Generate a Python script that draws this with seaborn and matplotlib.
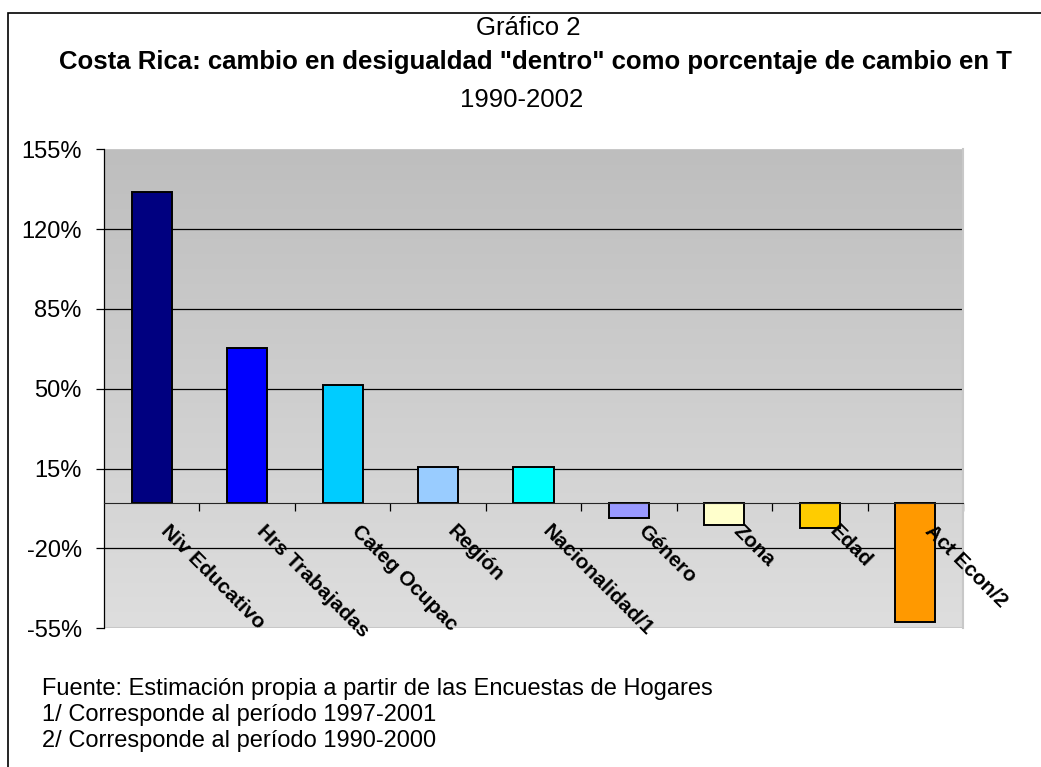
"""
Grafico 2 - Costa Rica: cambio en desigualdad "dentro"
como porcentaje de cambio en T, 1990-2002.
"""

import numpy as np
import pandas as pd
import seaborn as sns
import matplotlib
matplotlib.use('Agg')
import matplotlib.pyplot as plt
from matplotlib.patches import Rectangle
from matplotlib.ticker import FixedLocator
from matplotlib.transforms import ScaledTranslation

###
#Data

CATEGORIES = ['Niv Educativo', 'Hrs Trabajadas', 'Categ Ocupac', 'Región',
              'Nacionalidad/1', 'Género', 'Zona', 'Edad', 'Act Econ/2']
VALUES = [136.4, 67.8, 51.8, 15.6, 15.6, -6.5, -9.9, -10.9, -52.4]
COLORS = ['#000080', '#0000FF', '#00CCFF', '#99CCFF', '#00FFFF',
          '#9999FF', '#FFFFCC', '#FFCC00', '#FF9900']
YTICKS = [-55, -20, 15, 50, 85, 120, 155]

TITLE_1 = 'Gráfico 2'
TITLE_2 = 'Costa Rica: cambio en desigualdad "dentro" como porcentaje de cambio en T'
TITLE_3 = '1990-2002'
NOTES = ['Fuente: Estimación propia a partir de las Encuestas de Hogares',
         '1/ Corresponde al período 1997-2001',
         '2/ Corresponde al período 1990-2000']

sns.set_style('white')
plt.rcParams['font.family'] = ['Liberation Sans', 'DejaVu Sans']
plt.rcParams['text.color'] = 'black'
plt.rcParams['xtick.color'] = 'black'
plt.rcParams['ytick.color'] = 'black'


def main():
    df = pd.DataFrame({'cat': CATEGORIES, 'val': VALUES})

    fig = plt.figure(figsize=(10.41, 7.67), dpi=100)
    ax = fig.add_axes([0.0999, 0.181, 0.8252, 0.6245])

    #gray gradient background of the plot area
    grad = np.linspace(0, 1, 256).reshape(-1, 1)
    ax.imshow(grad, cmap=matplotlib.colors.LinearSegmentedColormap.from_list(
        'bg', ['#BEBEBE', '#DEDEDE']), aspect='auto',
        extent=[0, 1, 0, 1], transform=ax.transAxes, zorder=0)

    sns.barplot(data=df, x='cat', y='val', hue='cat', palette=COLORS,
                legend=False, width=0.42, edgecolor='black', linewidth=1.4,
                saturation=1, ax=ax, zorder=3)

    ax.set_xlim(-0.5, len(CATEGORIES) - 0.5)
    ax.set_ylim(YTICKS[0], YTICKS[-1])
    ax.set_yticks(YTICKS)
    ax.set_yticklabels([f'{t}%' for t in YTICKS], fontsize=17)
    for t in YTICKS[1:-1]:
        ax.axhline(t, color='black', linewidth=0.9, zorder=1)

    ax.set_xlabel('')
    ax.set_ylabel('')

    #x axis sits on the zero line
    ax.spines['bottom'].set_position(('data', 0))
    ax.spines['bottom'].set_zorder(4)
    ax.spines['top'].set_visible(False)
    ax.spines['right'].set_color('#C8C8C8')
    ax.spines['right'].set_linewidth(1.5)
    ax.spines['left'].set_color('black')
    ax.spines['left'].set_linewidth(0.9)

    #category labels: rotated, starting just below-right of the bar centre
    ax.set_xticks(range(len(CATEGORIES)))
    ax.set_xticklabels([])
    shift = ScaledTranslation(0.19, -0.19, fig.dpi_scale_trans)
    for i, cat in enumerate(CATEGORIES):
        ax.text(i, 0, cat, transform=ax.transData + shift, rotation=-45,
                rotation_mode='anchor', ha='left', va='top', fontsize=15,
                fontweight='bold', zorder=6)

    ax.xaxis.set_minor_locator(FixedLocator(np.arange(0.5, len(CATEGORIES), 1)))
    ax.tick_params(axis='x', which='major', length=0)
    ax.tick_params(axis='x', which='minor', length=6, width=0.9,
                   direction='out', color='black')
    ax.tick_params(axis='y', length=6, width=0.9, direction='out',
                   color='black', pad=10)
    ax.yaxis.set_ticks_position('left')
    ax.xaxis.set_ticks_position('bottom')

    #faint border at the bottom of the plot area
    ax.add_patch(Rectangle((0, 0), 1, 1, transform=ax.transAxes,
                           fill=False, edgecolor='#C8C8C8', linewidth=1.5,
                           zorder=0.5))

    #outer frame
    fig.add_artist(Rectangle((8 / 1041, -0.05), 1.1, 1.05 - 13 / 767,
                             transform=fig.transFigure, fill=False,
                             edgecolor='black', linewidth=1.2))

    fig.text(528 / 1041, 1 - 28 / 767, TITLE_1, ha='center', va='center',
             fontsize=18.5)
    fig.text(535 / 1041, 1 - 62 / 767, TITLE_2, ha='center', va='center',
             fontsize=18.5, fontweight='bold')
    fig.text(522 / 1041, 1 - 100 / 767, TITLE_3, ha='center', va='center',
             fontsize=18.5)

    for i, note in enumerate(NOTES):
        fig.text(42 / 1041, 1 - (689 + 26 * i) / 767, note, ha='left',
                 va='center', fontsize=17)

    fig.savefig('out.png', dpi=100)
    return 0


if __name__ == '__main__':
    main()
